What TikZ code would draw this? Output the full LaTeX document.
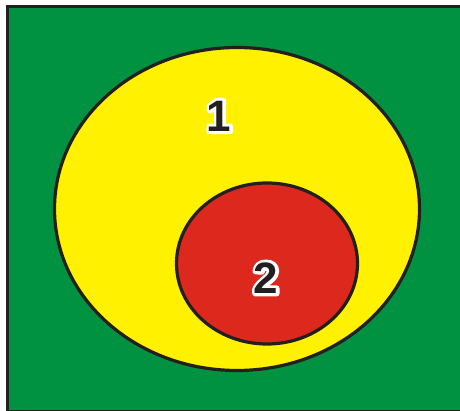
\documentclass[tikz,border=0pt]{standalone}
\usepackage{fontspec}
\setmainfont{Liberation Sans}
\newfontfamily\haloface[FakeBold=14]{Liberation Sans Bold}
\definecolor{bggreen}{RGB}{0,146,64}
\definecolor{yel}{RGB}{255,241,0}
\definecolor{redc}{RGB}{221,40,30}
\definecolor{edge}{RGB}{35,31,32}
\newcommand{\outl}[1]{\leavevmode
  \special{pdf:code 1 j}\rlap{\haloface\color{white}#1}#1}
\tikzset{
  circ/.style={draw=edge,line width=3.2pt},
  digit/.style={font=\fontsize{44}{44}\selectfont\bfseries,text=edge,inner sep=0pt},
}
\begin{document}
\begin{tikzpicture}[x=1pt,y=-1pt]
\useasboundingbox (0,0) rectangle (460,411);
\fill[white] (0,0) rectangle (460,411);
\begin{scope}
\clip (0,0) rectangle (460,411);
\draw[fill=bggreen,draw=edge,line width=3pt] (7.5,6.5) rectangle (480,411.5);
\end{scope}
\draw[circ,fill=yel] (237,209) ellipse [x radius=182.5,y radius=161.5];
\draw[circ,fill=redc] (267,263.5) ellipse [x radius=90.5,y radius=80.5];
\node[digit] (one) at (219,116) {\outl{1}};
\node[digit] (two) at (266,278) {\outl{2}};
\end{tikzpicture}
\end{document}
